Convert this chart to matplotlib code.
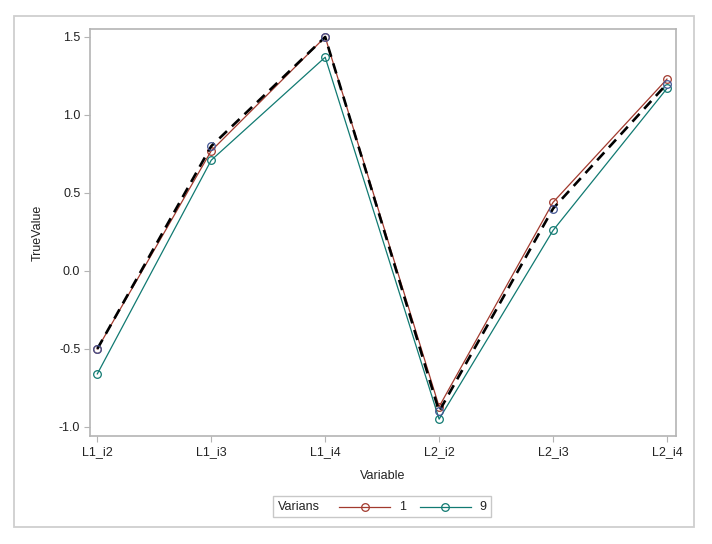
import matplotlib
matplotlib.use("Agg")
import matplotlib.pyplot as plt
from matplotlib.lines import Line2D
from matplotlib.patches import Rectangle
from matplotlib.offsetbox import AnchoredOffsetbox, HPacker, TextArea, DrawingArea

plt.rcParams['font.family'] = ['Liberation Sans', 'DejaVu Sans']

variables = ['L1_i2', 'L1_i3', 'L1_i4', 'L2_i2', 'L2_i3', 'L2_i4']
true_value = [-0.50, 0.80, 1.50, -0.90, 0.40, 1.20]
est_var1 = [-0.50, 0.77, 1.50, -0.87, 0.44, 1.23]
est_var9 = [-0.66, 0.71, 1.37, -0.95, 0.26, 1.17]
yticks = [-1.0, -0.5, 0.0, 0.5, 1.0, 1.5]

red = '#A23A2E'
teal = '#117A72'
blue = '#445694'
frame_gray = '#b4b4b4'

fig = plt.figure(figsize=(7.12, 5.44), dpi=100)
ax = fig.add_axes([90 / 712, 1 - 436 / 544, (676 - 90) / 712, (436 - 29) / 544])

x = list(range(len(variables)))
mk = dict(marker='o', mfc='none', ms=5.5, mew=0.9)
ax.plot(x, est_var1, color=red, lw=0.9, mec=red, **mk, zorder=3)
ax.plot(x, est_var9, color=teal, lw=0.9, mec=teal, **mk, zorder=3)
ax.plot(x, true_value, color='black', lw=1.9, ls=(0, (4, 2.6)), zorder=4)
ax.plot(x, true_value, ls='none', mec=blue, **mk, zorder=5)

ax.set_xlim(-0.064, 5.079)
ax.set_ylim(-1.058, 1.551)
ax.set_xticks(x)
ax.set_xticklabels(variables)
ax.set_yticks(yticks)
ax.set_yticklabels([f'{v:.1f}' for v in yticks])
ax.tick_params(axis='both', which='major', length=4, width=0.8, color=frame_gray,
               labelsize=9, labelcolor='#222222', pad=3)
for s in ax.spines.values():
    s.set_color(frame_gray)
    s.set_linewidth(1.2)
ax.set_xlabel('Variable', fontsize=9, color='#222222', labelpad=9)
ax.set_ylabel('TrueValue', fontsize=9, color='#222222', labelpad=11)

# outer border around the whole graph
fig.add_artist(Rectangle((14 / 712, 1 - 527 / 544), (694 - 14) / 712, (527 - 16) / 544,
                         transform=fig.transFigure, fill=False, ec='#cfcfcf', lw=1.3))

# legend with inline title, SAS style
def handle(color):
    da = DrawingArea(37, 8)
    da.add_artist(Line2D([0, 37], [4, 4], color=color, lw=0.9))
    da.add_artist(Line2D([18.5], [4], color=color, ls='none', mec=color, **mk))
    return da

def gap(w):
    return DrawingArea(w, 8)

tp = dict(fontsize=9, color='#222222')
box = HPacker(children=[TextArea('Varians', textprops=tp), gap(10), handle(red), gap(2),
                        TextArea('1', textprops=tp), gap(6), handle(teal), gap(2),
                        TextArea('9', textprops=tp)],
              sep=2, align='center', pad=0)
anch = AnchoredOffsetbox(loc='center', child=box, pad=0.3, borderpad=0, frameon=True,
                         bbox_to_anchor=(382 / 712, 1 - 506.5 / 544),
                         bbox_transform=fig.transFigure)
anch.patch.set_edgecolor('#c8c8c8')
anch.patch.set_linewidth(1.0)
anch.patch.set_boxstyle('square', pad=0)
fig.add_artist(anch)

fig.savefig('out.png', dpi=100)
